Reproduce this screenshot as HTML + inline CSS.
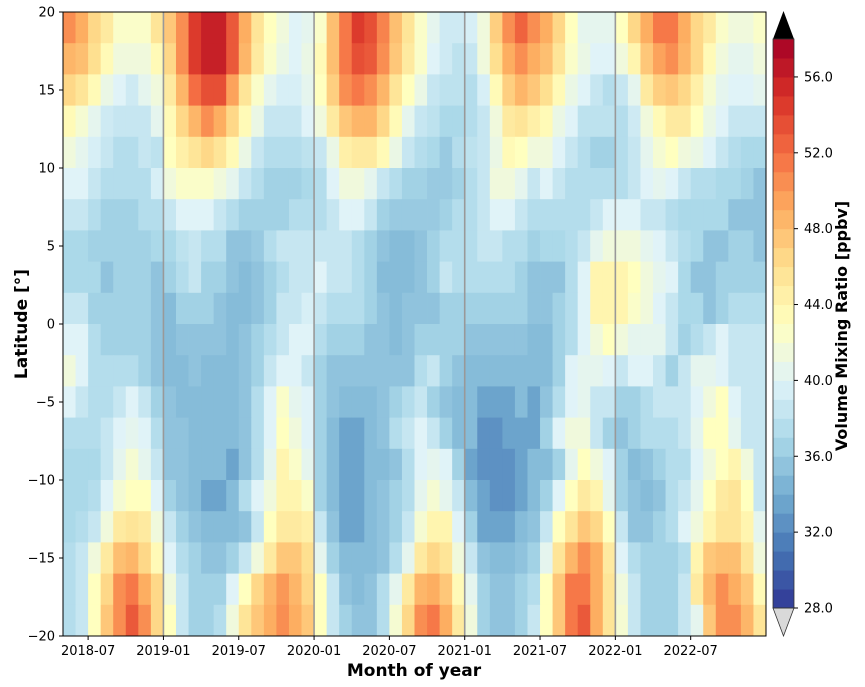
<!DOCTYPE html>
<html><head><meta charset="utf-8"><style>
html,body{margin:0;padding:0;background:#fff;}
svg{display:block;font-family:"DejaVu Sans","Liberation Sans",sans-serif;}
</style></head><body>
<svg id="chart" width="865" height="687" viewBox="0 0 865 687" xmlns="http://www.w3.org/2000/svg">
<g id="cells"></g>
<g id="grid"></g>
<rect x="63" y="12" width="703" height="624" fill="none" stroke="#000" stroke-width="1"/>
<g id="yaxis"></g>
<g id="xaxis"></g>
<text x="414" y="676" text-anchor="middle" font-size="17" font-weight="bold">Month of year</text>
<text transform="translate(27,324) rotate(-90)" text-anchor="middle" font-size="17" font-weight="bold">Latitude [°]</text>
<g id="cbar"></g>
<text transform="translate(847,326) rotate(-90)" text-anchor="middle" font-size="16" font-weight="bold">Volume Mixing Ratio [ppbv]</text>
</svg>
<script>
const latCenters=[19,17,15,13,11,9,7,5,3,1,-1,-3,-5,-7,-9,-11,-13,-15,-17,-19];
const nMonths=56; // 2018-05 .. 2022-12
const xTickLabels=["2018-07","2019-01","2019-07","2020-01","2020-07","2021-01","2021-07","2022-01","2022-07"];
const xTickMonths=[2,8,14,20,26,32,38,44,50];
const yTickValues=[-20,-15,-10,-5,0,5,10,15,20];
const yearLineMonths=[8,20,32,44];
const cbarTicks=[28,32,36,40,44,48,52,56];
const row0=[50.5,49,46.5,45,42.5,42.5,42.5,45.5,47.5,50.5,54.5,56,56,53,49,45.5,43,41.5,40,40.5,42.5,48,51.5,54.5,53.5,51,48,45.5,42.5,40.5,39,39,39.5,41.5,47,50.5,52.5,50.5,49,46.5,43,40.5,40.5,40.5,43,46.5,49,51.5,51.5,49,46.5,45,42.5,41.5,41.5,42.5];
const row1=[48.5,48,46,43.5,41.5,41.5,41.5,43.5,46.5,50.5,54.5,56,56,53,48.5,45,42.5,41,40,41,43.5,48,51.5,53.5,53,50.5,47.5,45,42.5,40,39,38,38.5,41.5,46,49,50.5,49,48,45.5,42.5,41,40,40,41.5,44,47.5,49.5,50.5,48.5,46.5,43.5,41.5,40.5,40.5,41.5];
const row2=[46.5,45.5,43.5,41,40,39,40.5,41.5,45,48.5,52,53.5,53.5,49.5,45.5,42.5,40.5,39.5,39.5,40.5,43,47,50.5,51.5,50.5,48.5,45.5,43,41,38.5,38,38,37.5,39.5,43.5,47,48.5,47.5,46,43.5,41,40,38.5,37.5,38.5,40.5,45,47,47.5,46.5,44.5,42,40.5,40,40,40.5];
const row3=[43.5,42,40.5,39,38.5,38.5,38.5,40.5,43.5,46.5,48.5,50.5,49,46.5,43.5,41,38.5,38.5,38.5,40,41.5,45,47.5,48.5,48.5,46.5,43.5,40.5,38.5,38,37,37,37.5,38.5,41.5,45,45.5,44.5,43.5,41,40,38,38,38,37.5,39,41.5,43.5,45,45,43,41,40,38.5,38.5,38.5];
const row4=[41.5,40.5,39.5,38.5,37.5,37.5,38.5,38,43,44.5,45.5,46.5,45.5,43.5,41,38.5,37.5,37.5,37.5,38,38.5,41,44.5,45,45,43.5,41,38.5,37.5,37,36,37.5,38,38.5,41,43.5,43,41.5,41.5,40,38.5,37.5,36.5,36.5,37.5,38.5,40.5,42,43,41.5,41,40,38.5,37.5,37,37];
const row5=[40,40,38.5,37.5,37.5,37.5,37.5,39.5,41.5,42.5,42.5,42.5,41.5,40.5,38.5,37.5,36.5,36.5,36.5,37,37.5,40,41.5,41.5,40.5,38.5,37.5,36.5,36.5,36,36,36.5,37.5,38.5,41.5,41.5,40.5,38.5,40,38.5,37.5,37.5,37.5,37.5,37.5,38.5,40,40.5,40,38.5,37.5,37.5,37,37,36.5,35.5];
const row6=[38.5,38.5,37.5,36.5,36.5,36.5,37.5,37.5,38.5,40,40,40,38.5,37.5,36.5,36.5,36.5,36.5,37.5,37.5,37.5,38.5,40,40,38.5,36.5,36,36,36,36,36.5,37.5,37.5,38.5,40,40,38.5,37.5,37.5,37.5,37.5,37.5,38.5,40,40,40,38.5,38.5,37.5,37,37,37,37,35.5,35.5,35.5];
const row7=[37,37,36.5,36.5,36.5,36.5,36.5,37,37,38,38.5,37.5,37.5,35.5,35.5,36,37.5,38.5,38.5,38.5,38.5,38.5,38.5,37.5,36.5,35.5,35,35,35.5,36.5,37.5,37.5,37.5,38.5,38.5,37.5,37.5,36.5,37,37,37.5,38.5,40.5,41.5,41.5,41.5,40.5,40,38.5,37.5,37,35.5,35.5,36.5,36.5,35.5];
const row8=[37,37,37,35.5,36.5,36.5,36.5,35.5,36.5,37.5,38.5,36.5,36.5,35.5,35,35.5,36.5,37.5,38.5,38.5,40,38.5,38.5,37.5,36.5,35,35,35,35.5,36.5,38.5,37.5,37.5,37.5,37.5,37.5,36.5,35.5,35.5,35.5,37.5,40,44,44,44,43,41.5,40.5,40,37,35.5,35.5,36.5,36.5,36.5,36.5];
const row9=[38.5,38.5,36.5,36.5,36.5,36.5,36.5,35.5,35,36.5,36.5,36.5,35.5,35,35,35.5,36.5,38.5,38.5,39.5,38.5,37.5,37.5,37.5,36.5,35.5,35,35.5,35.5,35.5,36.5,36.5,36.5,36.5,36.5,36.5,36.5,35.5,35.5,36.5,37.5,40,44,44,44,42.5,41.5,40,38.5,37,37,35.5,36.5,37.5,37.5,37.5];
const row10=[40,40,37.5,36.5,36.5,36.5,36.5,35.5,35,35.5,35.5,35.5,35.5,35,35.5,36.5,37.5,38.5,40,40,37.5,36.5,36.5,36.5,35.5,35.5,35,35.5,36.5,36.5,36.5,36.5,35.5,35.5,35.5,35.5,35.5,35,35,36.5,37.5,40,41.5,43,41.5,40.5,40.5,40.5,38.5,36.5,37.5,38.5,40,38.5,38.5,38.5];
const row11=[41.5,40,37.5,37.5,37.5,37.5,36.5,35.5,35,35,35.5,35,35,35,35.5,36.5,38.5,40,40,38.5,36.5,35.5,35.5,35.5,35.5,35.5,35.5,35.5,37.5,38.5,36.5,35.5,35,35,35,35,35,35,35,36.5,40,40.5,40.5,40,38.5,40,40,38.5,36.5,38.5,40.5,40.5,40,38.5,38.5,38.5];
const row12=[40,38.5,37.5,37.5,38.5,40,38.5,36.5,35.5,35,35,35,35,35,35.5,37.5,40,42.5,40.5,40,36.5,35.5,35,35,35,35.5,36.5,37.5,38.5,36.5,35.5,35,35,33.5,33.5,33.5,35,33.5,35.5,37.5,40,40.5,38.5,38.5,36.5,36.5,37.5,38.5,38.5,38.5,40,41.5,43,40,38.5,38.5];
const row13=[37.5,37.5,37.5,38.5,40,40.5,40,37.5,35.5,35.5,35,35,35,35,35.5,37.5,40,43,41.5,40,36.5,35,33.5,33.5,35,35.5,37.5,38.5,40,38.5,36.5,35,35,32.5,32.5,33.5,33.5,33.5,36.5,40,41.5,41.5,38.5,36.5,35.5,36.5,37.5,37.5,37.5,38.5,40.5,43,43,40.5,38.5,38.5];
const row14=[37,37,37,38.5,40.5,42,40.5,38.5,35.5,35.5,35,35,35,33.5,35.5,37.5,40.5,44,42.5,40.5,36.5,35,33.5,33.5,35,35,35.5,37.5,40,40.5,40,36.5,33.5,32.5,32.5,32.5,33.5,35,35,36.5,40.5,43,41.5,40,36.5,35,35.5,36.5,37.5,37.5,40,41.5,43,44,41.5,38.5];
const row15=[37,37,37.5,40,42,43,43,40,36.5,35.5,35,33.5,33.5,35,37.5,40,41.5,44,44,42.5,36.5,35,33.5,33.5,35,35.5,36.5,37.5,40.5,42,40.5,38.5,35,33.5,32.5,32.5,33.5,35,36.5,40,43,45,44,40.5,36.5,35.5,35,35.5,37.5,38.5,40.5,43,45,45.5,43,38.5];
const row16=[37,37.5,38.5,41.5,45,45.5,45,41.5,38.5,36.5,35.5,35,35,35,35.5,38.5,43,45,45,44.5,38.5,35.5,33.5,33.5,35,35.5,36.5,38.5,42,44,44,40,36.5,33.5,33.5,33.5,35,35.5,38.5,43,45.5,47.5,46.5,43,38.5,35.5,35.5,36.5,37.5,40,41.5,44,45.5,45.5,44,40.5];
const row17=[37.5,38.5,41.5,45,48,48.5,46.5,43.5,40,37.5,36.5,35.5,35.5,36.5,38.5,41.5,45,47.5,47.5,46,40.5,36.5,35,35,35,35.5,37.5,40.5,45,46.5,45.5,41.5,38.5,35.5,35,35,35.5,36.5,40.5,45.5,48.5,50.5,49,45,40,37.5,36.5,36.5,36.5,37.5,44,47.5,48,48,45.5,41.5];
const row18=[37.5,38.5,43,46.5,50.5,51.5,49,46.5,41.5,38.5,36.5,36.5,36.5,40,43,46.5,48.5,50,48.5,46.5,43,38.5,35.5,35,35.5,37.5,40.5,45,48.5,49,47.5,43.5,40.5,36.5,35.5,35.5,36.5,37.5,43,47.5,51.5,51.5,49,45.5,41.5,38.5,36.5,36.5,36.5,38.5,45,48.5,50.5,49,47.5,43.5];
const row19=[37.5,38.5,43,47.5,50.5,53,50.5,46.5,43,38.5,36.5,36.5,37.5,41.5,45.5,47.5,49,50.5,49,47.5,43,38.5,36.5,35.5,35.5,37.5,42,46.5,50.5,51.5,49,45,41.5,36.5,35.5,35.5,36.5,38.5,43,47.5,51.5,53,49,45.5,42,38.5,36.5,36.5,36.5,38.5,40.5,47.5,50.5,50.5,48.5,45.5];
const rows=[row0,row1,row2,row3,row4,row5,row6,row7,row8,row9,row10,row11,row12,row13,row14,row15,row16,row17,row18,row19];

const NS="http://www.w3.org/2000/svg";
const X0=63,X1=766,Y0=12,Y1=636,VMIN=28,VMAX=58;
function xScale(m){return X0+(X1-X0)*m/nMonths;}
function yScale(lat){return Y0+(Y1-Y0)*(20-lat)/40;}
const anchors=["#313695","#4575b4","#74add1","#abd9e9","#e0f3f8","#ffffbf","#fee090","#fdae61","#f46d43","#d73027","#a50026"];
function hex(h){return [1,3,5].map(i=>parseInt(h.substr(i,2),16));}
function color(v){
  let t=Math.max(0,Math.min(1,(v-VMIN)/(VMAX-VMIN)));
  let p=t*10,i=Math.min(9,Math.floor(p)),f=p-i;
  let a=hex(anchors[i]),b=hex(anchors[i+1]);
  return "rgb("+a.map((c,k)=>Math.round(c+(b[k]-c)*f)).join(",")+")";
}
function mk(tag,attrs,parent){const e=document.createElementNS(NS,tag);for(const k in attrs)e.setAttribute(k,attrs[k]);parent.appendChild(e);return e;}
const cells=document.getElementById("cells");
rows.forEach((row,r)=>{
  const lat=latCenters[r];
  const yt=yScale(lat+1),yb=yScale(lat-1);
  row.forEach((v,m)=>{
    const x=xScale(m),x2=xScale(m+1);
    const c=mk("rect",{x:x,y:yt,width:x2-x+0.4,height:yb-yt+0.4,fill:color(v)},cells);
    
    
  });
});
const grid=document.getElementById("grid");
yearLineMonths.forEach(m=>{
  const l=mk("line",{x1:xScale(m),x2:xScale(m),y1:Y0,y2:Y1,stroke:"#999",'stroke-width':1.6},grid);
  
  
});
const ya=document.getElementById("yaxis");
yTickValues.forEach(v=>{
  const y=yScale(v);
  mk("line",{x1:X0-4,x2:X0,y1:y,y2:y,stroke:"#000"},ya);
  const t=mk("text",{x:X0-8,y:y+4.5,'text-anchor':"end",'font-size':13},ya);
  t.textContent=String(v).replace("-","−");
  
  
});
const xa=document.getElementById("xaxis");
xTickMonths.forEach((m,i)=>{
  const x=xScale(m);
  mk("line",{x1:x,x2:x,y1:Y1,y2:Y1+4,stroke:"#000"},xa);
  const t=mk("text",{x:x,y:Y1+19,'text-anchor':"middle",'font-size':13},xa);
  t.textContent=xTickLabels[i];
  
  
});
const cb=document.getElementById("cbar");
const CX0=773,CX1=794,CY0=39,CY1=608;
function cbY(v){return CY1-(CY1-CY0)*(v-VMIN)/(VMAX-VMIN);}
for(let v=VMIN;v<VMAX;v++){
  const r=mk("rect",{x:CX0,y:cbY(v+1),width:CX1-CX0,height:cbY(v)-cbY(v+1)+0.5,fill:color(v+0.5)},cb);
  
  
}
const tri1=mk("polygon",{points:`${CX0},${CY0} ${CX1},${CY0} ${(CX0+CX1)/2},11`,fill:"#000"},cb);


const tri2=mk("polygon",{points:`${CX0},${CY1} ${CX1},${CY1} ${(CX0+CX1)/2},636`,fill:"#d9d9d9",stroke:"#333",'stroke-width':0.8},cb);


mk("rect",{x:CX0,y:CY0,width:CX1-CX0,height:CY1-CY0,fill:"none",stroke:"#333",'stroke-width':0.8},cb);
cbarTicks.forEach(v=>{
  const y=cbY(v);
  mk("line",{x1:CX1,x2:CX1+4,y1:y,y2:y,stroke:"#000"},cb);
  const t=mk("text",{x:CX1+10,y:y+4.5,'font-size':13},cb);
  t.textContent=v.toFixed(1);
  
  
});
</script>
</body></html>
